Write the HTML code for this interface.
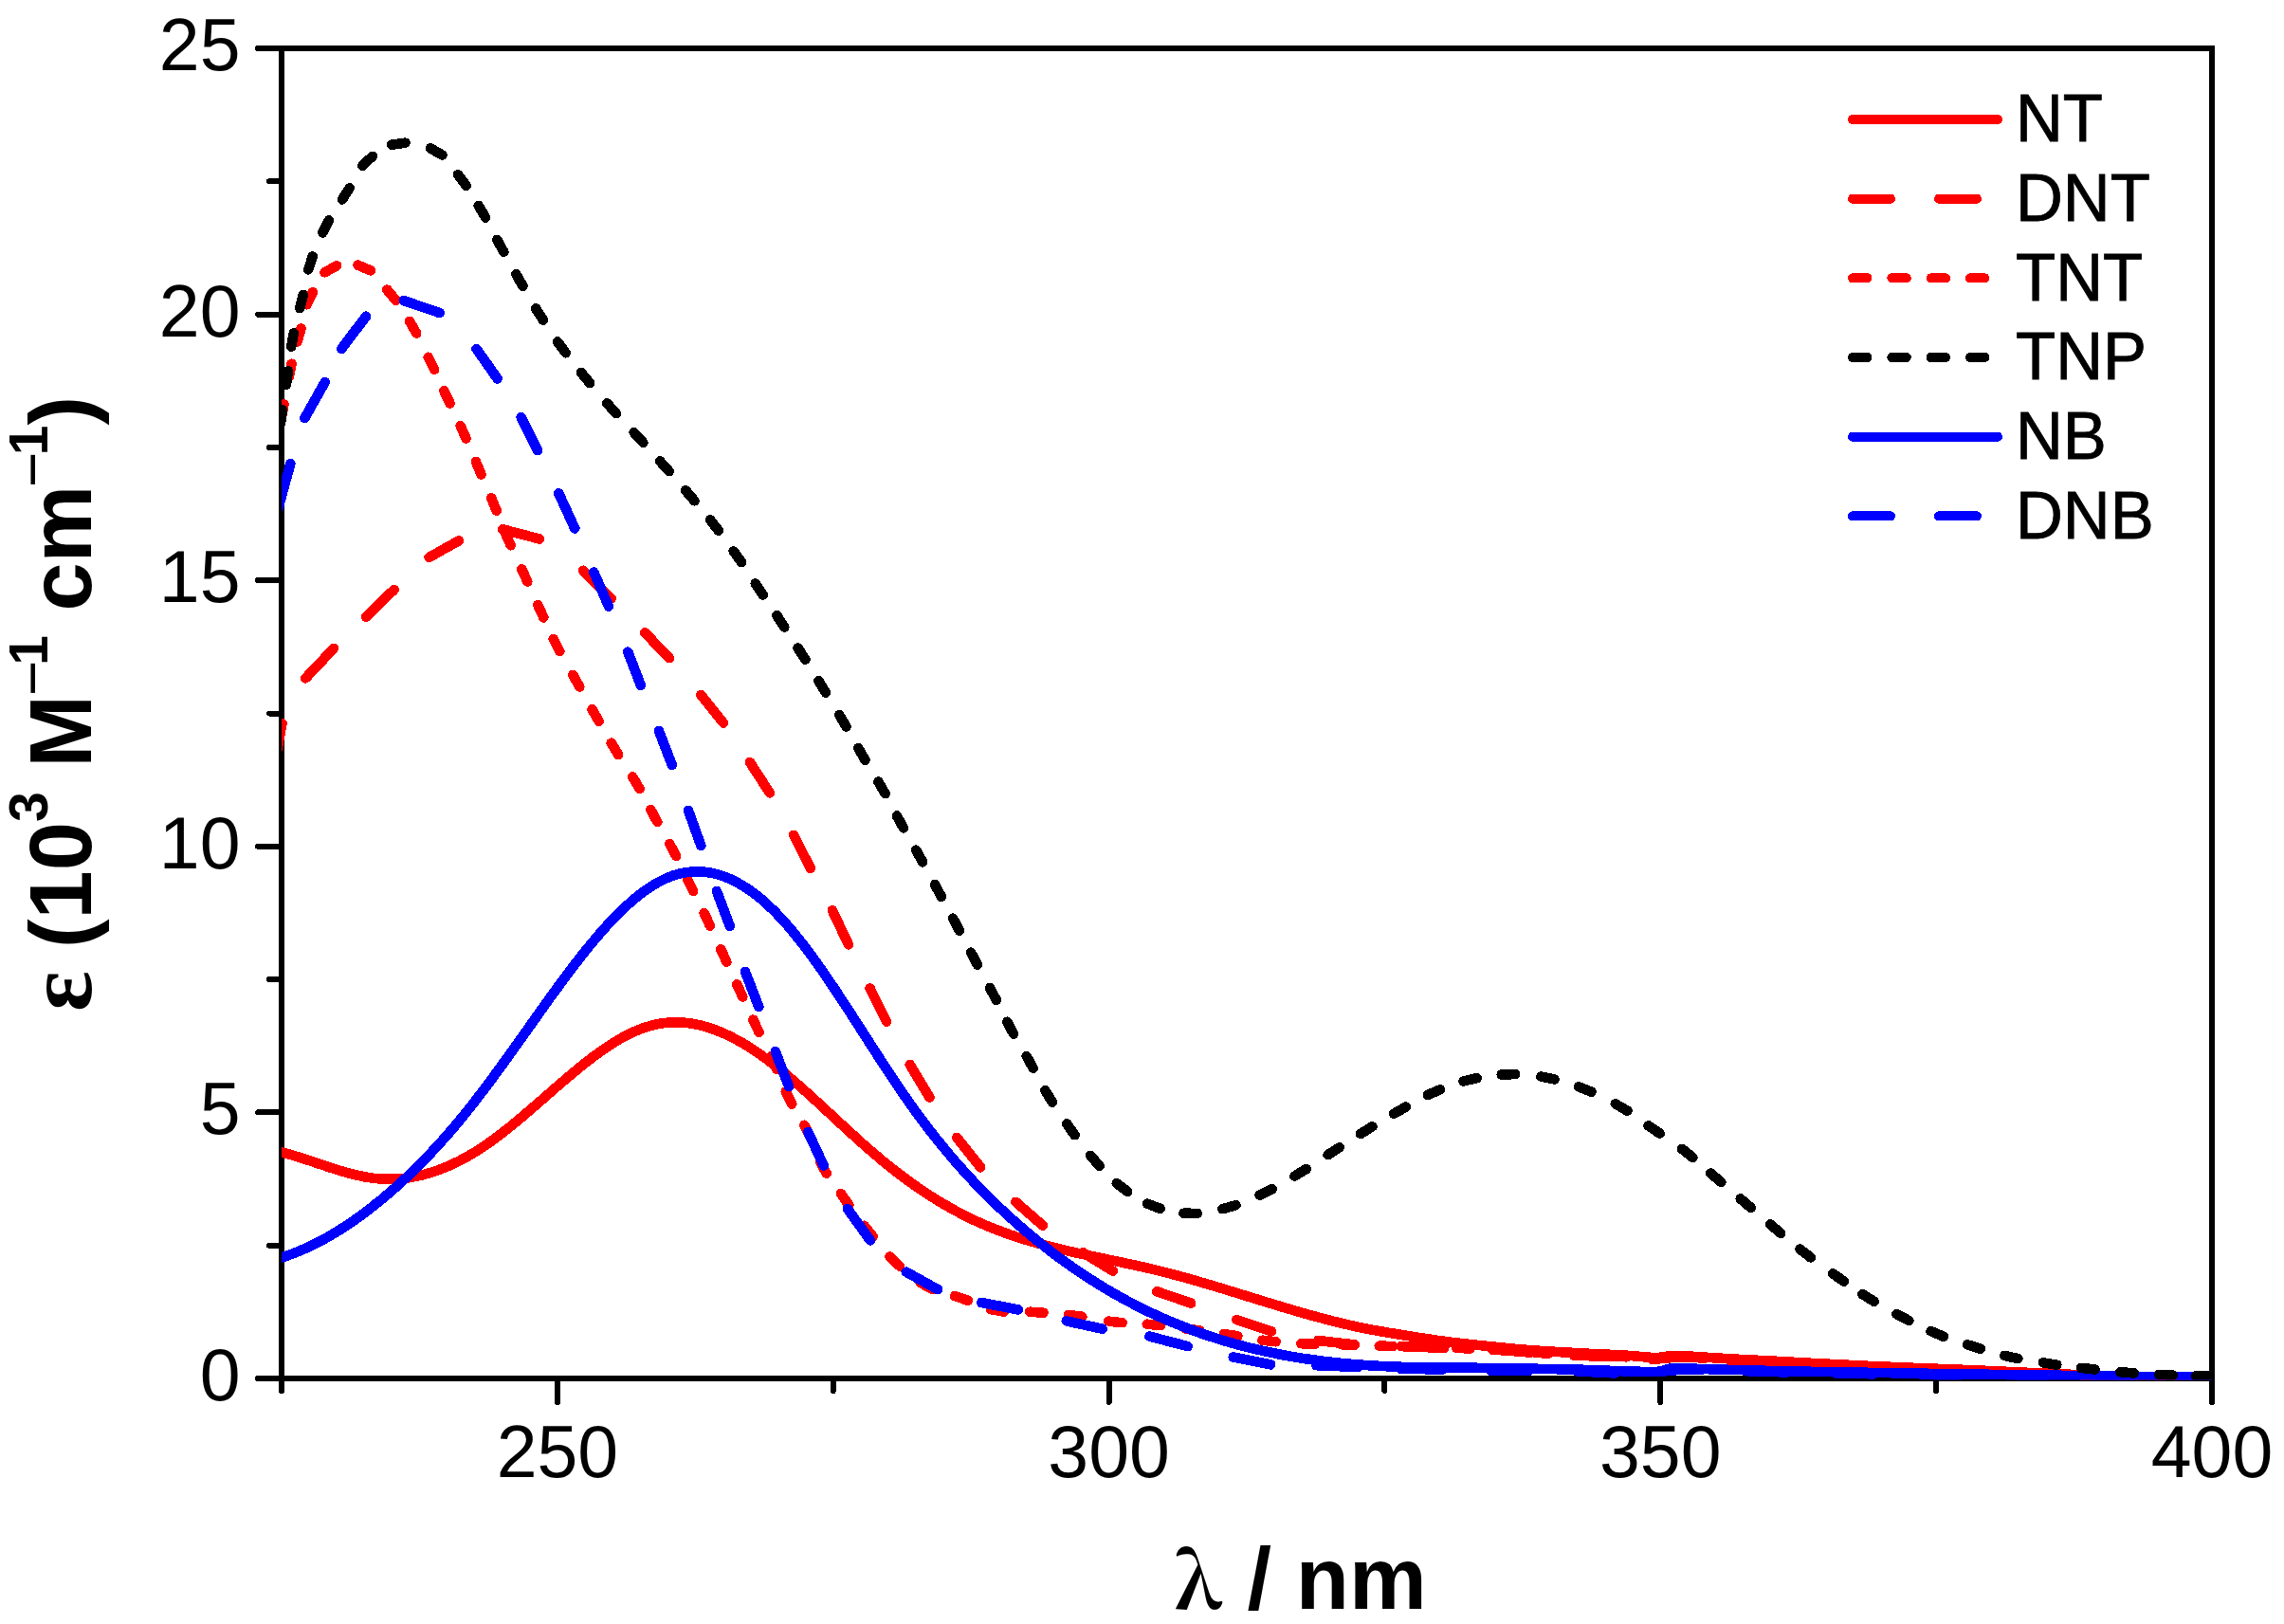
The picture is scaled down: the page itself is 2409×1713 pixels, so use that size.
<!DOCTYPE html>
<html lang="en"><head><meta charset="utf-8"><title>UV absorption spectra</title>
<style>html,body{margin:0;padding:0;background:#fff}svg{display:block}</style></head>
<body>
<svg width="2409" height="1713" viewBox="0 0 2409 1713">
<rect width="2409" height="1713" fill="#fff"/>
<defs><clipPath id="plot"><rect x="297" y="51" width="2036" height="1404.5"/></clipPath></defs>
<g stroke="#000" stroke-width="6" fill="none" shape-rendering="crispEdges">
<path stroke-linecap="butt" d="M297 48 V1454 M2333 48 V1454"/>
<path stroke-linecap="round" d="M272 51 H2333 M272 1454 H2333 M272 1173.4 H297 M272 892.8 H297 M272 612.2 H297 M272 331.6 H297 M284 1313.7 H297 M284 1033.1 H297 M284 752.5 H297 M284 471.9 H297 M284 191.3 H297 M587.9 1454 V1479 M1169.6 1454 V1479 M1751.3 1454 V1479 M2333 1454 V1479 M297 1454 V1467 M878.7 1454 V1467 M1460.4 1454 V1467 M2042.1 1454 V1467"/>
</g>
<g font-family="'Liberation Sans', Arial, sans-serif" font-size="77" fill="#000">
<text x="253.5" y="1477" text-anchor="end">0</text>
<text x="253.5" y="1196.4" text-anchor="end">5</text>
<text x="253.5" y="915.8" text-anchor="end">10</text>
<text x="253.5" y="635.2" text-anchor="end">15</text>
<text x="253.5" y="354.6" text-anchor="end">20</text>
<text x="253.5" y="74" text-anchor="end">25</text>
<text x="587.9" y="1558" text-anchor="middle">250</text>
<text x="1169.6" y="1558" text-anchor="middle">300</text>
<text x="1751.3" y="1558" text-anchor="middle">350</text>
<text x="2333" y="1558" text-anchor="middle">400</text>
</g>
<g clip-path="url(#plot)" shape-rendering="crispEdges" fill="none" stroke-width="10.6" stroke-linecap="round" stroke-linejoin="round">
<path stroke="#f00" d="M290 1213.9 L294 1214.7 L298 1215.7 L302 1216.7 L306 1217.8 L310 1219 L314 1220.2 L318 1221.5 L322 1222.8 L326 1224.1 L330 1225.4 L334 1226.8 L338 1228.1 L342 1229.4 L346 1230.8 L350 1232.1 L354 1233.4 L358 1234.6 L362 1235.8 L366 1236.9 L370 1238 L374 1239 L378 1240 L382 1240.8 L386 1241.6 L390 1242.2 L394 1242.8 L398 1243.2 L402 1243.5 L406 1243.7 L410 1243.7 L414 1243.7 L418 1243.5 L422 1243.3 L426 1242.9 L430 1242.4 L434 1241.7 L438 1241 L442 1240.2 L446 1239.2 L450 1238.1 L454 1236.9 L458 1235.7 L462 1234.3 L466 1232.8 L470 1231.2 L474 1229.4 L478 1227.6 L482 1225.7 L486 1223.7 L490 1221.5 L494 1219.3 L498 1217 L502 1214.6 L506 1212 L510 1209.4 L514 1206.7 L518 1203.8 L522 1200.9 L526 1197.9 L530 1194.9 L534 1191.7 L538 1188.5 L542 1185.3 L546 1181.9 L550 1178.6 L554 1175.2 L558 1171.8 L562 1168.3 L566 1164.8 L570 1161.4 L574 1157.9 L578 1154.4 L582 1150.9 L586 1147.4 L590 1143.9 L594 1140.5 L598 1137.1 L602 1133.7 L606 1130.4 L610 1127.1 L614 1123.8 L618 1120.7 L622 1117.6 L626 1114.5 L630 1111.6 L634 1108.7 L638 1105.9 L642 1103.2 L646 1100.7 L650 1098.2 L654 1095.8 L658 1093.6 L662 1091.5 L666 1089.5 L670 1087.7 L674 1086 L678 1084.5 L682 1083.2 L686 1082 L690 1080.9 L694 1080.1 L698 1079.4 L702 1078.9 L706 1078.5 L710 1078.3 L714 1078.3 L718 1078.4 L722 1078.7 L726 1079.2 L730 1079.7 L734 1080.5 L738 1081.3 L742 1082.4 L746 1083.5 L750 1084.8 L754 1086.2 L758 1087.8 L762 1089.4 L766 1091.2 L770 1093.1 L774 1095.2 L778 1097.3 L782 1099.6 L786 1101.9 L790 1104.4 L794 1107 L798 1109.7 L802 1112.4 L806 1115.3 L810 1118.2 L814 1121.3 L818 1124.4 L822 1127.6 L826 1130.8 L830 1134.1 L834 1137.5 L838 1140.9 L842 1144.4 L846 1148 L850 1151.5 L854 1155.1 L858 1158.7 L862 1162.4 L866 1166.1 L870 1169.8 L874 1173.5 L878 1177.2 L882 1180.9 L886 1184.6 L890 1188.3 L894 1192 L898 1195.6 L902 1199.3 L906 1202.9 L910 1206.5 L914 1210 L918 1213.5 L922 1216.9 L926 1220.3 L930 1223.7 L934 1227 L938 1230.2 L942 1233.4 L946 1236.5 L950 1239.5 L954 1242.5 L958 1245.5 L962 1248.4 L966 1251.2 L970 1253.9 L974 1256.6 L978 1259.3 L982 1261.9 L986 1264.4 L990 1266.9 L994 1269.3 L998 1271.6 L1002 1273.9 L1006 1276.1 L1010 1278.3 L1014 1280.4 L1018 1282.4 L1022 1284.4 L1026 1286.4 L1030 1288.2 L1034 1290 L1038 1291.8 L1042 1293.5 L1046 1295.1 L1050 1296.7 L1054 1298.2 L1058 1299.7 L1062 1301.2 L1066 1302.6 L1070 1303.9 L1074 1305.3 L1078 1306.5 L1082 1307.8 L1086 1309 L1090 1310.1 L1094 1311.3 L1098 1312.4 L1102 1313.5 L1106 1314.5 L1110 1315.5 L1114 1316.5 L1118 1317.5 L1122 1318.5 L1126 1319.4 L1130 1320.3 L1134 1321.2 L1138 1322.1 L1142 1323 L1146 1323.8 L1150 1324.7 L1154 1325.5 L1158 1326.4 L1162 1327.2 L1166 1328 L1170 1328.9 L1174 1329.7 L1178 1330.5 L1182 1331.4 L1186 1332.2 L1190 1333.1 L1194 1333.9 L1198 1334.8 L1202 1335.7 L1206 1336.6 L1210 1337.5 L1214 1338.4 L1218 1339.4 L1222 1340.4 L1226 1341.4 L1230 1342.4 L1234 1343.4 L1238 1344.5 L1242 1345.5 L1246 1346.6 L1250 1347.7 L1254 1348.8 L1258 1350 L1262 1351.1 L1266 1352.3 L1270 1353.5 L1274 1354.6 L1278 1355.8 L1282 1357 L1286 1358.2 L1290 1359.4 L1294 1360.7 L1298 1361.9 L1302 1363.1 L1306 1364.3 L1310 1365.6 L1314 1366.8 L1318 1368.1 L1322 1369.3 L1326 1370.5 L1330 1371.8 L1334 1373 L1338 1374.2 L1342 1375.4 L1346 1376.6 L1350 1377.9 L1354 1379.1 L1358 1380.2 L1362 1381.4 L1366 1382.6 L1370 1383.8 L1374 1384.9 L1378 1386 L1382 1387.2 L1386 1388.3 L1390 1389.4 L1394 1390.4 L1398 1391.5 L1402 1392.5 L1406 1393.6 L1410 1394.6 L1414 1395.5 L1418 1396.5 L1422 1397.4 L1426 1398.3 L1430 1399.2 L1434 1400.1 L1438 1400.9 L1442 1401.7 L1446 1402.5 L1450 1403.2 L1454 1404 L1458 1404.6 L1462 1405.3 L1466 1406 L1470 1406.6 L1474 1407.3 L1478 1407.9 L1482 1408.6 L1486 1409.2 L1490 1409.9 L1494 1410.5 L1498 1411.1 L1502 1411.7 L1506 1412.4 L1510 1412.9 L1514 1413.5 L1518 1414.1 L1522 1414.6 L1526 1415.2 L1530 1415.7 L1534 1416.2 L1538 1416.6 L1542 1417.1 L1546 1417.5 L1550 1418 L1554 1418.4 L1558 1418.8 L1562 1419.2 L1566 1419.6 L1570 1420 L1574 1420.4 L1578 1420.8 L1582 1421.2 L1586 1421.6 L1590 1422 L1594 1422.4 L1598 1422.8 L1602 1423.2 L1606 1423.5 L1610 1423.8 L1614 1424.1 L1618 1424.4 L1622 1424.7 L1626 1425 L1630 1425.2 L1634 1425.5 L1638 1425.7 L1642 1425.9 L1646 1426.2 L1650 1426.4 L1654 1426.6 L1658 1426.8 L1662 1427 L1666 1427.3 L1670 1427.5 L1674 1427.7 L1678 1427.9 L1682 1428 L1686 1428.2 L1690 1428.4 L1694 1428.6 L1698 1428.8 L1702 1429 L1706 1429.2 L1710 1429.4 L1714 1429.6 L1718 1429.9 L1722 1430.2 L1726 1430.5 L1730 1430.9 L1734 1431.3 L1738 1431.6 L1742 1431.9 L1746 1432 L1750 1431.8 L1754 1431.4 L1758 1430.7 L1762 1430 L1766 1429.8 L1770 1429.9 L1774 1430.1 L1778 1430.3 L1782 1430.5 L1786 1430.8 L1790 1431 L1794 1431.3 L1798 1431.6 L1802 1431.9 L1806 1432.2 L1810 1432.4 L1814 1432.6 L1818 1432.9 L1822 1433.1 L1826 1433.3 L1830 1433.5 L1834 1433.8 L1838 1434 L1842 1434.2 L1846 1434.4 L1850 1434.6 L1854 1434.8 L1858 1435 L1862 1435.2 L1866 1435.4 L1870 1435.6 L1874 1435.8 L1878 1436.1 L1882 1436.3 L1886 1436.5 L1890 1436.7 L1894 1436.9 L1898 1437.1 L1902 1437.3 L1906 1437.6 L1910 1437.8 L1914 1438 L1918 1438.2 L1922 1438.4 L1926 1438.6 L1930 1438.8 L1934 1439 L1938 1439.2 L1942 1439.4 L1946 1439.6 L1950 1439.8 L1954 1440 L1958 1440.2 L1962 1440.4 L1966 1440.6 L1970 1440.8 L1974 1440.9 L1978 1441.1 L1982 1441.3 L1986 1441.4 L1990 1441.6 L1994 1441.8 L1998 1441.9 L2002 1442.1 L2006 1442.3 L2010 1442.4 L2014 1442.6 L2018 1442.8 L2022 1442.9 L2026 1443.1 L2030 1443.2 L2034 1443.4 L2038 1443.5 L2042 1443.7 L2046 1443.9 L2050 1444 L2054 1444.2 L2058 1444.3 L2062 1444.5 L2066 1444.6 L2070 1444.8 L2074 1445 L2078 1445.1 L2082 1445.3 L2086 1445.4 L2090 1445.6 L2094 1445.8 L2098 1446 L2102 1446.1 L2106 1446.3 L2110 1446.5 L2114 1446.7 L2118 1446.9 L2122 1447.1 L2126 1447.2 L2130 1447.4 L2134 1447.6 L2138 1447.8 L2142 1448 L2146 1448.2 L2150 1448.4 L2154 1448.5 L2158 1448.7 L2162 1448.9 L2166 1449.1 L2170 1449.2 L2174 1449.4 L2178 1449.6 L2182 1449.7 L2186 1449.9 L2190 1450.1 L2194 1450.2 L2198 1450.4 L2202 1450.5 L2206 1450.6 L2210 1450.8 L2214 1450.9 L2218 1451 L2222 1451.1 L2226 1451.2 L2230 1451.3 L2234 1451.4 L2238 1451.5 L2242 1451.6 L2246 1451.7 L2250 1451.8 L2254 1451.8 L2258 1451.9 L2262 1452 L2266 1452.1 L2270 1452.1 L2274 1452.2 L2278 1452.3 L2282 1452.4 L2286 1452.4 L2290 1452.5 L2294 1452.5 L2298 1452.6 L2302 1452.7 L2306 1452.7 L2310 1452.8 L2314 1452.8 L2318 1452.8 L2322 1452.9 L2326 1452.9 L2330 1452.9 L2334 1453 L2338 1453"/>
<path stroke="#f00" d="M289.5 806 L297.5 763 M322.3 715.4 L351.9 684 M386.1 650.7 L415.6 622 M452.6 587.9 L484 570.3 M530.2 558.3 L569 568.5 M615.2 601.7 L644.7 631.3 M680.2 667.4 L706 694.2 M739.3 733 L762.9 762.5 M791 804.1 L811.9 836.4 M837.2 880.8 L854.8 915.9 M877.9 960.3 L895 996.4 M917.6 1042.5 L935.1 1077.6 M959.7 1122.9 L980.4 1157.6 M1009.2 1200 L1034.2 1231.3 M1071.3 1267.8 L1099.9 1292.7 M1142.4 1321.3 L1173.8 1340.7 M1220.3 1362.3 L1256.2 1374.6 M1304.3 1392.1 L1341.1 1404.3 M1390.2 1414 L1428.7 1418.4 M1477.7 1420.1 L1523.3 1421.9 M1574.3 1423.7 L1584.2 1424.3 L1594.2 1425 L1604.2 1425.8 L1614.2 1426.6 M1665 1430 L1675 1430.2 L1685 1430.4 L1695 1430.6 L1705 1431 M1755.8 1432.9 L1765.8 1431.7 L1775.8 1431.4 L1785.8 1431.8 L1795.7 1432.6 M1846.6 1436.1 L1856.6 1436.5 L1866.6 1436.9 L1876.6 1437.4 L1886.6 1437.8 M1937.5 1440.6 L1947.5 1441.2 L1957.5 1441.7 L1967.4 1442.2 L1977.4 1442.6 M2028.4 1444.5 L2038.4 1444.8 L2048.4 1445.1 L2058.4 1445.5 L2068.4 1445.8 M2119.3 1447.7 L2129.3 1448.1 L2139.3 1448.5 L2149.3 1448.9 L2159.3 1449.3 M2210.3 1451.2 L2220.3 1451.5 L2230.3 1451.8 L2240.3 1452.1 L2250.3 1452.3 M2301.3 1453.1 L2310.9 1453.2 L2320.6 1453.2 L2330.3 1453.1 L2340 1453"/>
<path stroke="#f00" d="M296.9 440.6 L299.5 426.4 M304.6 398 L307.6 383.8 M313.6 360.5 L317.4 346.5 M323.6 321.2 L329.8 308.2 M342.5 287.3 L355.1 280.3 M377.5 279.7 L390.9 285.3 M408.3 305.6 L417.5 316.8 M432 338.9 L439.2 351.5 M451.7 376.8 L458.1 389.8 M468.3 412.2 L474.5 425.4 M485.7 449.2 L491.5 462.4 M501.9 486.9 L507.5 500.3 M518.1 525.2 L523.7 538.6 M532.8 561.8 L538.6 575.2 M550.3 600.3 L556.3 613.5 M567.3 638.2 L573.3 651.4 M583.7 674 L590.3 687 M604.3 711.9 L611.3 724.5 M624.5 748.3 L631.7 760.9 M644.7 783.7 L652.1 796.1 M667.2 819.5 L674.6 832.1 M686.3 854.1 L693.3 866.9 M706.3 890.1 L713.1 902.9 M724.8 927 L731.2 940 M742.7 963.3 L748.9 976.5 M760.3 1001.4 L766.3 1014.6 M777.3 1038.3 L783.3 1051.5 M794.4 1075.7 L800.6 1088.9 M813 1114.5 L819 1127.7 M828.8 1151.5 L835.2 1164.5 M848.3 1186.8 L854.7 1199.8 M864.8 1225.2 L871.8 1237.8 M886.9 1259.1 L895.3 1270.9 M911.5 1292.8 L920.5 1304.2 M938.5 1325.6 L949.1 1335.6 M970.7 1352.9 L983.3 1359.9 M1007.1 1367 L1020.9 1371.8 M1044.8 1381 L1059 1383.6 M1086.2 1383.7 L1100.6 1384.7 M1126.9 1387 L1141.3 1388.8 M1169.3 1393.6 L1183.7 1395.2 M1209.8 1396.7 L1224.2 1398.1 M1250.8 1401.5 L1265.2 1403.5 M1291 1407.1 L1305.4 1409.3 M1331.3 1413.7 L1345.7 1415.3 M1372.4 1417.2 L1386.8 1417.8 M1414.5 1418.2 L1428.9 1418.6 M1454.8 1419.6 L1469.2 1420 M1495 1420.8 L1509.4 1421.2 M1536.2 1422 L1550.6 1422.4 M1577.4 1423.5 L1582.3 1423.7 L1587.1 1424.1 L1591.9 1424.4 M1618.6 1426.6 L1623.4 1427 L1628.2 1427.4 L1633.1 1427.8 M1659.8 1429.5 L1664.6 1429.7 L1669.5 1429.8 L1674.3 1429.9 M1701.1 1430.4 L1705.9 1430.6 L1710.7 1430.9 L1715.6 1431.3 M1742.2 1433.6 L1747.1 1433.5 L1751.9 1433.1 L1756.7 1432.5 M1783.4 1431.4 L1788.2 1431.7 L1793.1 1432.1 L1797.9 1432.5 M1824.6 1434.7 L1829.4 1435 L1834.2 1435.2 L1839.1 1435.5 M1865.8 1436.6 L1870.7 1436.8 L1875.5 1437 L1880.3 1437.2 M1907.1 1438.6 L1911.9 1438.9 L1916.7 1439.2 L1921.6 1439.4 M1948.3 1440.9 L1953.1 1441.2 L1958 1441.4 L1962.8 1441.6 M1989.6 1442.8 L1994.4 1443 L1999.2 1443.2 L2004.1 1443.4 M2030.8 1444.3 L2035.7 1444.5 L2040.5 1444.7 L2045.3 1444.8 M2072.1 1445.7 L2077 1445.9 L2081.8 1446.1 L2086.6 1446.2 M2113.4 1447.3 L2118.2 1447.4 L2123.1 1447.6 L2127.9 1447.8 M2154.7 1448.9 L2159.5 1449.1 L2164.3 1449.3 L2169.1 1449.5 M2195.9 1450.5 L2200.8 1450.6 L2205.6 1450.8 L2210.4 1451 M2237.2 1451.8 L2242 1451.9 L2246.9 1452.1 L2251.7 1452.2 M2278.5 1452.7 L2283.3 1452.8 L2288.2 1452.9 L2293 1452.9 M2319.8 1453.1 L2324.6 1453.1 L2329.5 1453.1 L2334.3 1453"/>
<path stroke="#00f" d="M290 1328.5 L294 1327.4 L298 1326.1 L302 1324.8 L306 1323.4 L310 1321.9 L314 1320.3 L318 1318.6 L322 1316.9 L326 1315 L330 1313.1 L334 1311.1 L338 1309 L342 1306.9 L346 1304.7 L350 1302.3 L354 1300 L358 1297.5 L362 1294.9 L366 1292.3 L370 1289.6 L374 1286.9 L378 1284 L382 1281.1 L386 1278.1 L390 1275.1 L394 1271.9 L398 1268.7 L402 1265.5 L406 1262.1 L410 1258.7 L414 1255.3 L418 1251.7 L422 1248.1 L426 1244.4 L430 1240.7 L434 1236.9 L438 1233 L442 1229 L446 1225 L450 1220.8 L454 1216.6 L458 1212.4 L462 1208 L466 1203.6 L470 1199.1 L474 1194.5 L478 1189.9 L482 1185.1 L486 1180.3 L490 1175.4 L494 1170.4 L498 1165.4 L502 1160.2 L506 1155 L510 1149.8 L514 1144.5 L518 1139.1 L522 1133.7 L526 1128.2 L530 1122.7 L534 1117.2 L538 1111.7 L542 1106.1 L546 1100.5 L550 1094.8 L554 1089.2 L558 1083.6 L562 1077.9 L566 1072.3 L570 1066.7 L574 1061.1 L578 1055.5 L582 1049.9 L586 1044.4 L590 1039 L594 1033.5 L598 1028.2 L602 1022.9 L606 1017.6 L610 1012.4 L614 1007.3 L618 1002.3 L622 997.4 L626 992.6 L630 987.9 L634 983.2 L638 978.7 L642 974.3 L646 970.1 L650 965.9 L654 961.9 L658 958.1 L662 954.4 L666 950.8 L670 947.4 L674 944.2 L678 941.2 L682 938.3 L686 935.6 L690 933.1 L694 930.8 L698 928.7 L702 926.8 L706 925.1 L710 923.6 L714 922.3 L718 921.3 L722 920.5 L726 919.9 L730 919.5 L734 919.3 L738 919.4 L742 919.6 L746 920.1 L750 920.7 L754 921.6 L758 922.7 L762 924 L766 925.4 L770 927.1 L774 929 L778 931.1 L782 933.4 L786 935.8 L790 938.5 L794 941.3 L798 944.4 L802 947.6 L806 951 L810 954.7 L814 958.5 L818 962.4 L822 966.6 L826 970.9 L830 975.4 L834 980.1 L838 984.9 L842 989.9 L846 995 L850 1000.2 L854 1005.6 L858 1011 L862 1016.6 L866 1022.2 L870 1028 L874 1033.8 L878 1039.8 L882 1045.7 L886 1051.8 L890 1057.9 L894 1064 L898 1070.2 L902 1076.4 L906 1082.6 L910 1088.8 L914 1095 L918 1101.3 L922 1107.5 L926 1113.7 L930 1119.9 L934 1126 L938 1132.1 L942 1138.1 L946 1144.1 L950 1150 L954 1155.8 L958 1161.5 L962 1167.2 L966 1172.7 L970 1178.2 L974 1183.5 L978 1188.8 L982 1194 L986 1199.1 L990 1204.1 L994 1209 L998 1213.8 L1002 1218.6 L1006 1223.3 L1010 1227.9 L1014 1232.4 L1018 1236.8 L1022 1241.2 L1026 1245.5 L1030 1249.7 L1034 1253.9 L1038 1257.9 L1042 1262 L1046 1265.9 L1050 1269.8 L1054 1273.6 L1058 1277.4 L1062 1281.1 L1066 1284.7 L1070 1288.3 L1074 1291.8 L1078 1295.3 L1082 1298.7 L1086 1302.1 L1090 1305.4 L1094 1308.7 L1098 1311.9 L1102 1315.1 L1106 1318.2 L1110 1321.3 L1114 1324.3 L1118 1327.3 L1122 1330.2 L1126 1333 L1130 1335.9 L1134 1338.6 L1138 1341.4 L1142 1344.1 L1146 1346.7 L1150 1349.3 L1154 1351.8 L1158 1354.3 L1162 1356.8 L1166 1359.2 L1170 1361.5 L1174 1363.9 L1178 1366.1 L1182 1368.4 L1186 1370.6 L1190 1372.7 L1194 1374.8 L1198 1376.9 L1202 1378.9 L1206 1380.9 L1210 1382.9 L1214 1384.8 L1218 1386.6 L1222 1388.4 L1226 1390.2 L1230 1392 L1234 1393.7 L1238 1395.4 L1242 1397 L1246 1398.6 L1250 1400.2 L1254 1401.7 L1258 1403.2 L1262 1404.7 L1266 1406.1 L1270 1407.5 L1274 1408.8 L1278 1410.1 L1282 1411.4 L1286 1412.7 L1290 1413.9 L1294 1415.1 L1298 1416.3 L1302 1417.4 L1306 1418.5 L1310 1419.5 L1314 1420.6 L1318 1421.6 L1322 1422.6 L1326 1423.5 L1330 1424.4 L1334 1425.3 L1338 1426.2 L1342 1427 L1346 1427.8 L1350 1428.6 L1354 1429.4 L1358 1430.1 L1362 1430.8 L1366 1431.5 L1370 1432.1 L1374 1432.8 L1378 1433.4 L1382 1433.9 L1386 1434.5 L1390 1435 L1394 1435.6 L1398 1436 L1402 1436.5 L1406 1437 L1410 1437.4 L1414 1437.8 L1418 1438.2 L1422 1438.6 L1426 1438.9 L1430 1439.2 L1434 1439.5 L1438 1439.8 L1442 1440.1 L1446 1440.4 L1450 1440.6 L1454 1440.8 L1458 1441 L1462 1441.2 L1466 1441.4 L1470 1441.6 L1474 1441.7 L1478 1441.8 L1482 1442 L1486 1442.1 L1490 1442.2 L1494 1442.2 L1498 1442.3 L1502 1442.3 L1506 1442.4 L1510 1442.4 L1514 1442.4 L1518 1442.5 L1522 1442.5 L1526 1442.5 L1530 1442.6 L1534 1442.6 L1538 1442.6 L1542 1442.6 L1546 1442.7 L1550 1442.7 L1554 1442.7 L1558 1442.8 L1562 1442.8 L1566 1442.9 L1570 1442.9 L1574 1443 L1578 1443 L1582 1443.1 L1586 1443.1 L1590 1443.2 L1594 1443.3 L1598 1443.3 L1602 1443.4 L1606 1443.5 L1610 1443.6 L1614 1443.6 L1618 1443.7 L1622 1443.8 L1626 1443.9 L1630 1443.9 L1634 1444 L1638 1444.1 L1642 1444.2 L1646 1444.3 L1650 1444.4 L1654 1444.5 L1658 1444.5 L1662 1444.6 L1666 1444.7 L1670 1444.8 L1674 1444.9 L1678 1445.1 L1682 1445.2 L1686 1445.3 L1690 1445.5 L1694 1445.6 L1698 1445.8 L1702 1445.9 L1706 1446.1 L1710 1446.2 L1714 1446.4 L1718 1446.5 L1722 1446.6 L1726 1446.7 L1730 1446.8 L1734 1446.9 L1738 1446.9 L1742 1447 L1746 1447 L1750 1446.6 L1754 1445.8 L1758 1444.5 L1762 1443.4 L1766 1443 L1770 1443.1 L1774 1443.2 L1778 1443.3 L1782 1443.5 L1786 1443.6 L1790 1443.8 L1794 1443.9 L1798 1444.1 L1802 1444.2 L1806 1444.3 L1810 1444.5 L1814 1444.6 L1818 1444.7 L1822 1444.8 L1826 1444.9 L1830 1445 L1834 1445.1 L1838 1445.2 L1842 1445.3 L1846 1445.4 L1850 1445.5 L1854 1445.6 L1858 1445.7 L1862 1445.8 L1866 1445.9 L1870 1446 L1874 1446.1 L1878 1446.2 L1882 1446.2 L1886 1446.3 L1890 1446.4 L1894 1446.5 L1898 1446.6 L1902 1446.6 L1906 1446.7 L1910 1446.8 L1914 1446.8 L1918 1446.9 L1922 1447 L1926 1447 L1930 1447.1 L1934 1447.2 L1938 1447.2 L1942 1447.3 L1946 1447.4 L1950 1447.4 L1954 1447.5 L1958 1447.6 L1962 1447.6 L1966 1447.7 L1970 1447.8 L1974 1447.8 L1978 1447.9 L1982 1448 L1986 1448 L1990 1448.1 L1994 1448.2 L1998 1448.2 L2002 1448.3 L2006 1448.4 L2010 1448.4 L2014 1448.5 L2018 1448.5 L2022 1448.6 L2026 1448.7 L2030 1448.7 L2034 1448.8 L2038 1448.9 L2042 1448.9 L2046 1449 L2050 1449.1 L2054 1449.1 L2058 1449.2 L2062 1449.2 L2066 1449.3 L2070 1449.4 L2074 1449.4 L2078 1449.5 L2082 1449.5 L2086 1449.6 L2090 1449.7 L2094 1449.7 L2098 1449.8 L2102 1449.8 L2106 1449.9 L2110 1449.9 L2114 1450 L2118 1450.1 L2122 1450.1 L2126 1450.2 L2130 1450.2 L2134 1450.3 L2138 1450.3 L2142 1450.4 L2146 1450.4 L2150 1450.5 L2154 1450.5 L2158 1450.6 L2162 1450.6 L2166 1450.7 L2170 1450.7 L2174 1450.8 L2178 1450.8 L2182 1450.9 L2186 1451 L2190 1451 L2194 1451.1 L2198 1451.1 L2202 1451.2 L2206 1451.2 L2210 1451.3 L2214 1451.3 L2218 1451.3 L2222 1451.4 L2226 1451.4 L2230 1451.5 L2234 1451.5 L2238 1451.6 L2242 1451.6 L2246 1451.7 L2250 1451.7 L2254 1451.8 L2258 1451.8 L2262 1451.9 L2266 1451.9 L2270 1452 L2274 1452 L2278 1452 L2282 1452.1 L2286 1452.1 L2290 1452.2 L2294 1452.2 L2298 1452.3 L2302 1452.3 L2306 1452.4 L2310 1452.4 L2314 1452.4 L2318 1452.5 L2322 1452.5 L2326 1452.6 L2330 1452.6 L2334 1452.6 L2338 1452.7"/>
<path stroke="#00f" d="M293.4 536 L306.4 489 M321.4 441 L342.7 403.1 M360.2 367.9 L386.1 333.7 M425.8 317.1 L463.7 330 M502.5 367.9 L524.6 399.4 M549.6 440 L567.1 475.2 M589.3 520.4 L606.3 557.4 M626.3 603.6 L642 639.6 M662.3 687.7 L675.8 722.8 M694.9 770.9 L708.8 806.9 M726 854.9 L739.3 891.9 M755.9 940 L769.8 977 M786 1025 L800.3 1061.9 M817.8 1109.1 L832 1146 M852.2 1194 L868.8 1229.5 M893.9 1275.1 L917.9 1308.4 M955.8 1341.7 L989.1 1360.1 M1035.2 1374 L1074 1381.4 M1124.8 1393.4 L1162.7 1401.7 M1212.4 1409.6 L1252.7 1420.1 M1300.8 1431.5 L1340.2 1439.4 M1388.4 1440.2 L1432.2 1442 M1477.7 1443.7 L1521.5 1444.6 M1572.5 1445.7 L1582.5 1445.8 L1592.5 1445.8 L1602.5 1445.8 L1612.5 1445.8 M1663.5 1446.4 L1673.5 1446.9 L1683.5 1447.4 L1693.4 1447.9 L1703.4 1448.4 M1754.3 1446.5 L1764.3 1445.4 L1774.2 1444.8 L1784.2 1444.8 L1794.2 1445.1 M1845.2 1446.7 L1855.2 1446.9 L1865.2 1447 L1875.2 1447.2 L1885.2 1447.4 M1936.2 1448.5 L1946.2 1448.7 L1956.2 1448.9 L1966.2 1449.1 L1976.2 1449.3 M2027.2 1450.1 L2037.2 1450.2 L2047.2 1450.3 L2057.2 1450.4 L2067.2 1450.5 M2118.2 1450.9 L2128.2 1451 L2138.2 1451 L2148.2 1451.1 L2158.2 1451.1 M2209.2 1451.5 L2219.2 1451.5 L2229.2 1451.6 L2239.2 1451.7 L2249.2 1451.8 M2300.2 1452.4 L2310.1 1452.5 L2320.1 1452.7 L2330 1452.8 L2340 1453"/>
<path stroke="#000" d="M296 446.7 L298 432.3 M302 405.7 L304 391.3 M307.2 365.6 L309.8 351.4 M316.3 325.1 L319.7 310.9 M325.3 284.3 L329.7 270.5 M340.3 245.4 L346.9 232.4 M360.9 210.5 L368.7 198.3 M382.3 174.8 L392.9 164.8 M413.1 152.7 L427.5 150.7 M454 156.4 L466.6 163.6 M482.9 184.2 L491.7 195.8 M504.7 216.9 L512.1 229.5 M524.3 252.9 L531.3 265.7 M544.3 289.2 L551.5 301.8 M565.1 325.4 L572.9 337.6 M588.1 360.5 L596.7 372.3 M612.9 392.9 L622.1 404.1 M640.3 425.4 L649.9 436.2 M668.6 456.2 L678.4 466.8 M696.1 486.4 L705.7 497.2 M723.1 517.3 L732.5 528.3 M749.1 548.3 L757.9 559.7 M773.7 581.4 L782.1 593.2 M796.8 615.5 L804.8 627.5 M819.3 649.2 L827.3 661.4 M841.6 683.5 L849.4 695.7 M863.3 718.1 L870.9 730.5 M885.2 754.1 L892.6 766.5 M905.3 789.1 L912.5 801.7 M926.4 824.6 L933.6 837.2 M945.9 860.5 L952.9 873.3 M966.2 896.7 L973.2 909.3 M986.1 933.1 L992.9 945.9 M1005.1 968.7 L1011.9 981.5 M1024.1 1004.7 L1030.9 1017.5 M1044.1 1042.1 L1050.9 1054.9 M1062.3 1077.8 L1069.1 1090.6 M1082.7 1114.1 L1089.7 1126.7 M1102.3 1150.2 L1109.9 1162.6 M1125.1 1185.4 L1133.5 1197.2 M1150.1 1219 L1159.7 1229.8 M1177.8 1248.1 L1189.2 1256.9 M1210 1269.6 L1223.6 1274.8 M1248.4 1279.7 L1262.8 1279.9 M1289.4 1275.2 L1303.4 1271.2 M1328.6 1260.7 L1341.6 1254.3 M1365.4 1240.6 L1377.8 1233 M1400.6 1218.1 L1412.8 1210.3 M1435 1195.9 L1447.4 1188.3 M1470.1 1174.8 L1482.7 1167.6 M1505.8 1155 L1519 1149.2 M1543.5 1140.5 L1557.7 1137.1 M1583.7 1133.5 L1598.1 1133.1 M1625.4 1135.6 L1639.6 1138.4 M1665.1 1146.3 L1678.5 1151.7 M1703.8 1164.3 L1716.4 1171.7 M1738.6 1187.4 L1750.6 1195.6 M1774 1211.9 L1785.4 1220.9 M1804.3 1237.6 L1815.3 1247 M1835.7 1264.5 L1846.7 1273.9 M1867 1291.4 L1878.2 1300.8 M1898.4 1317.6 L1909.8 1326.4 M1933.1 1343.3 L1944.9 1351.7 M1964.4 1365.2 L1976.8 1372.8 M2000.5 1386.1 L2013.3 1392.9 M2036.6 1404.2 L2050 1409.8 M2075 1418.3 L2088.8 1422.7 M2114.2 1429.9 L2128.4 1433.1 M2154.9 1437.4 L2169.3 1439.6 M2195.1 1442.9 L2209.5 1444.5 M2236.3 1447.2 L2250.7 1448.4 M2277.3 1449.9 L2291.7 1450.5 M2316.3 1451.4 L2330.7 1451.8 M2356.8 1452.3 L2371.2 1452.7"/>
</g>
<g fill="none" stroke-width="10" stroke-linecap="round" shape-rendering="crispEdges">
<path stroke="#f00" d="M1954 126 H2107"/>
<path stroke="#f00" d="M1954 209.7 h40 m51 0 h40"/>
<path stroke="#f00" d="M1954 293.3 h15.5 m25.8 0 h15.5 m25.8 0 h15.5 m25.8 0 h15.5"/>
<path stroke="#000" d="M1954 377 h15.5 m25.8 0 h15.5 m25.8 0 h15.5 m25.8 0 h15.5"/>
<path stroke="#00f" d="M1954 460.7 H2107"/>
<path stroke="#00f" d="M1954 544.4 h40 m51 0 h40"/>
</g>
<g font-family="'Liberation Sans', Arial, sans-serif" font-size="69" fill="#000" stroke="#000" stroke-width="0.8">
<text transform="translate(2126 149.2) scale(1 1.03)">NT</text>
<text transform="translate(2126 232.9) scale(1 1.03)">DNT</text>
<text transform="translate(2126 316.5) scale(1 1.03)">TNT</text>
<text transform="translate(2126 400.2) scale(1 1.03)">TNP</text>
<text transform="translate(2126 483.9) scale(1 1.03)">NB</text>
<text transform="translate(2126 567.6) scale(1 1.03)">DNB</text>
</g>
<text y="1697" font-size="92" font-weight="bold" fill="#000" font-family="'Liberation Sans', Arial, sans-serif"><tspan x="1238.5" font-size="80" font-family="'Noto Serif CJK SC', 'Liberation Serif', serif">λ</tspan><tspan x="1290"> / nm</tspan></text>
<g transform="translate(95.5 1066) rotate(-90)" fill="#000" font-weight="bold" font-family="'Liberation Sans', Arial, sans-serif" font-size="92"><text y="0"><tspan x="-1" font-size="100" font-family="'Liberation Serif', serif">ε</tspan><tspan x="40.4"> (10</tspan><tspan x="199" dy="-46" font-size="57">3</tspan><tspan x="230.7" dy="46"> M</tspan><tspan x="332" dy="-39.5" font-size="64" font-weight="normal">−</tspan><tspan x="364.2" dy="-6.5" font-size="57">1</tspan><tspan x="395.9" dy="46"> cm</tspan><tspan x="552" dy="-39.5" font-size="64" font-weight="normal">−</tspan><tspan x="585.8" dy="-6.5" font-size="57">1</tspan><tspan x="617.5" dy="46">)</tspan></text></g>
</svg>
</body></html>
